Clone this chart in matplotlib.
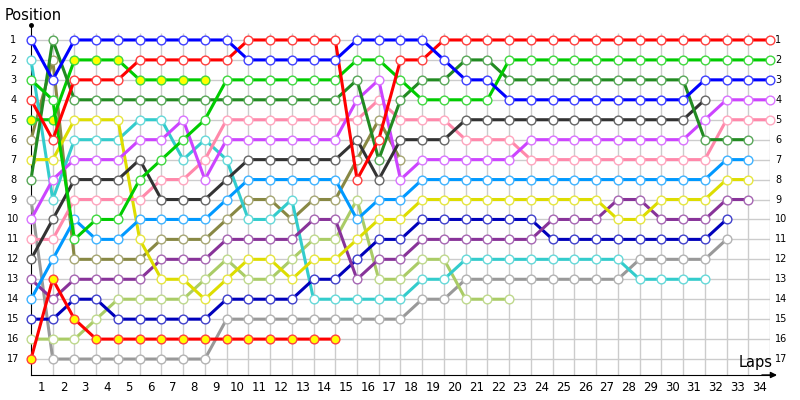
import matplotlib
matplotlib.use("Agg")
import matplotlib.pyplot as plt
from matplotlib.colors import to_rgb

# lap 0 = grid, then position after each lap (lists stop when the car retires)
laps_total = 34
blue = [1, 3, 1, 1, 1, 1, 1, 1, 1, 1, 2, 2, 2, 2, 2, 1, 1, 1, 1, 2, 3, 3,
        4, 4, 4, 4, 4, 4, 4, 4, 4, 3, 3, 3, 3]
red = [4, 6, 3, 3, 3, 2, 2, 2, 2, 2, 1, 1, 1, 1, 1, 8, 6, 2, 2, 1, 1, 1,
       1, 1, 1, 1, 1, 1, 1, 1, 1, 1, 1, 1, 1]
bright_green = [3, 4, 11, 10, 10, 8, 7, 6, 5, 3, 3, 3, 3, 3, 3, 2, 2, 3, 4, 4, 4, 4,
                2, 2, 2, 2, 2, 2, 2, 2, 2, 2, 2, 2, 2]
dark_green = [8, 1, 4, 4, 4, 4, 4, 4, 4, 4, 4, 4, 4, 4, 4, 3, 7, 4, 3, 3, 2, 2,
              3, 3, 3, 3, 3, 3, 3, 3, 3, 6, 6, 6]
green_yellow = [5, 5, 2, 2, 2, 3, 3, 3, 3]
dark_gray = [12, 10, 8, 8, 8, 7, 9, 9, 9, 8, 7, 7, 7, 7, 7, 6, 8, 6, 6, 6, 5, 5,
             5, 5, 5, 5, 5, 5, 5, 5, 5, 4]
purple = [10, 8, 7, 7, 7, 6, 6, 5, 8, 6, 6, 6, 6, 6, 6, 4, 3, 8, 7, 7, 7, 7,
          7, 6, 6, 6, 6, 6, 6, 6, 6, 5, 4, 4, 4]
pink = [11, 11, 9, 9, 9, 9, 8, 8, 7, 5, 5, 5, 5, 5, 5, 5, 4, 5, 5, 5, 6, 6,
        6, 7, 7, 7, 7, 7, 7, 7, 7, 7, 5, 5, 5]
light_blue = [14, 12, 10, 11, 11, 10, 10, 10, 10, 9, 8, 8, 8, 8, 8, 10, 9, 9, 8, 8, 8, 8,
              8, 8, 8, 8, 8, 8, 8, 8, 8, 8, 7, 7]
yellow = [7, 7, 5, 5, 5, 11, 13, 13, 14, 13, 12, 12, 13, 12, 12, 11, 10, 10, 9, 9, 9, 9,
          9, 9, 9, 9, 9, 10, 10, 9, 9, 9, 8, 8]
dark_purple = [13, 14, 13, 13, 13, 13, 12, 12, 12, 11, 11, 11, 11, 10, 10, 13, 12, 12, 11, 11, 11, 11,
               11, 11, 10, 10, 10, 9, 9, 10, 10, 10, 9, 9]
dark_blue = [15, 15, 14, 14, 15, 15, 15, 15, 15, 14, 14, 14, 14, 13, 13, 12, 11, 11, 10, 10, 10, 10,
             10, 10, 11, 11, 11, 11, 11, 11, 11, 11, 10]
gray = [9, 17, 17, 17, 17, 17, 17, 17, 17, 15, 15, 15, 15, 15, 15, 15, 15, 15, 14, 14, 13, 13,
        13, 13, 13, 13, 13, 13, 12, 12, 12, 12, 11]
teal = [2, 9, 6, 6, 6, 5, 5, 7, 6, 7, 10, 10, 9, 14, 14, 14, 14, 14, 13, 13, 12, 12,
        12, 12, 12, 12, 12, 12, 13, 13, 13, 13]
olive = [6, 2, 12, 12, 12, 12, 11, 11, 11, 10, 9, 9, 10, 9, 9, 7, 5, 7]
light_green = [16, 16, 16, 15, 14, 14, 14, 14, 13, 12, 13, 13, 12, 11, 11, 9, 13, 13, 12, 12, 14, 14, 14]
red_yellow = [17, 13, 15, 16, 16, 16, 16, 16, 16, 16, 16, 16, 16, 16, 16]

# (positions, line colour, marker fill)
drivers = [
    (gray, "#999999", "white"),
    (light_green, "#AACC66", "white"),
    (olive, "#888844", "white"),
    (teal, "#33CCCC", "white"),
    (dark_blue, "#0000BB", "white"),
    (dark_purple, "#883399", "white"),
    (yellow, "#DDDD00", "white"),
    (light_blue, "#0099FF", "white"),
    (pink, "#FF88AA", "white"),
    (purple, "#CC44FF", "white"),
    (dark_gray, "#333333", "white"),
    (red_yellow, "#FF0000", "#FFFF00"),
    (green_yellow, "#00CC00", "#FFFF00"),
    (dark_green, "#228B22", "white"),
    (bright_green, "#00CC00", "white"),
    (red, "#FF0000", "white"),
    (blue, "#0000FF", "white"),
]


def lighter(c, f=0.25):
    r, g, b = to_rgb(c)
    return (r + (1 - r) * f, g + (1 - g) * f, b + (1 - b) * f)


fig = plt.figure(figsize=(8, 4), dpi=100)
ax = fig.add_axes([31 / 800, 25 / 400, 739 / 800, 350 / 400])
ax.set_xlim(0, laps_total)
ax.set_ylim(17.8, 0.25)

# grid
ax.hlines(range(1, 18), 0, laps_total, color="#CCCCCC", lw=1, zorder=0)
ax.vlines(range(1, laps_total + 1), 17.8, 0.65, color="#CCCCCC", lw=1, zorder=0)

for pos, col, fill in drivers:
    ax.plot(range(len(pos)), pos, "-o", color=col, lw=2.2, ms=6.3,
            mfc=fill, mec=lighter(col), mew=1, zorder=3, clip_on=False)

for s in ["top", "right"]:
    ax.spines[s].set_visible(False)
ax.spines["left"].set_color("black")
ax.spines["bottom"].set_color("black")
ax.set_xticks([])
ax.set_yticks([])

# axis arrow and top dot
ax.annotate("", xy=(34.45, 17.8), xytext=(33.5, 17.8),
            arrowprops=dict(arrowstyle="-|>", color="black", lw=1,
                            mutation_scale=9), annotation_clip=False)
ax.plot([laps_total, 34.2], [17.8, 17.8], color="black", lw=1, clip_on=False)
ax.plot([0], [0.25], "o", color="black", ms=2.5, clip_on=False)

# labels
for p in range(1, 18):
    ax.text(-0.82, p, str(p), ha="center", va="center", fontsize=7)
    ax.text(laps_total + 0.25, p, str(p), ha="left", va="center", fontsize=7)
for k in range(1, laps_total + 1):
    ax.text(k - 0.5, 18.45, str(k), ha="center", va="center", fontsize=8.5)

fig.text(5 / 800, 1 - 15 / 400, "Position", ha="left", va="center", fontsize=10.5)
ax.text(34.1, 17.15, "Laps", ha="right", va="center", fontsize=10.5)

fig.savefig("out.png", dpi=100)
